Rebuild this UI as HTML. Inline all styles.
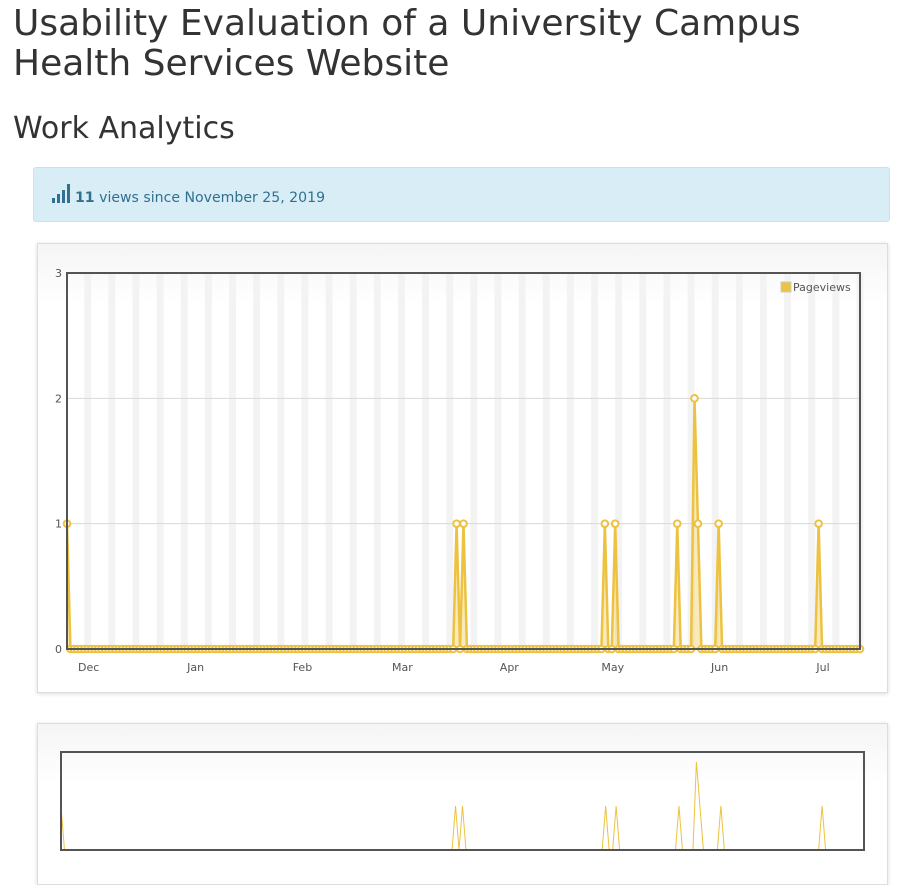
<!DOCTYPE html>
<html><head><meta charset="utf-8">
<style>
body{margin:0;background:#fff;font-family:"DejaVu Sans","Liberation Sans",sans-serif;color:#333;width:921px;height:866px;overflow:hidden;position:relative}
h1{position:absolute;left:13px;top:4px;margin:0;font-weight:normal;font-size:36px;line-height:40px;color:#333}
h2{position:absolute;left:13px;top:111px;margin:0;font-weight:normal;font-size:30px;color:#333}
.info{position:absolute;left:33px;top:167px;width:857px;height:55px;background:#d9edf7;border:1px solid #bce8f1;border-radius:3px;box-sizing:border-box;color:#31708f;font-size:14.1px}
.info span{position:absolute;left:41px;top:22px}
.panel{position:absolute;left:37px;width:849px;border:1px solid #ddd;box-shadow:0 1px 4px rgba(0,0,0,.15);background:linear-gradient(#f5f5f5,#fff 60px)}
</style></head><body>
<h1>Usability Evaluation of a University Campus<br>Health Services Website</h1>
<h2>Work Analytics</h2>
<div class="info">
<svg width="20" height="22" style="position:absolute;left:17px;top:15px"><rect x="1" y="15" width="3" height="5" fill="#31708f"/><rect x="6" y="11" width="3" height="9" fill="#31708f"/><rect x="11" y="7" width="3" height="13" fill="#31708f"/><rect x="16" y="1" width="3" height="19" fill="#31708f"/></svg>
<span><b>11</b> views since November 25, 2019</span></div>
<div class="panel" style="top:243px;height:448px">
<svg id="main" width="849" height="448" style="position:absolute;left:0;top:0"></svg></div>
<div class="panel" style="top:723px;height:160px">
<svg id="ov" width="849" height="160" style="position:absolute;left:0;top:0"></svg></div>
<script>
const nDays = 231;
const spikeDays = [0,113,115,156,159,177,182,183,189,218];
const spikeValues = [1,1,1,1,1,1,2,1,1,1];
const yTicks = [0,1,2,3];
const monthLabels = ["Dec","Jan","Feb","Mar","Apr","May","Jun","Jul"];
const monthDays = [6,37,68,97,128,158,189,219];
const values = new Array(nDays).fill(0);
spikeDays.forEach((d,i)=>values[d]=spikeValues[i]);
const NS="http://www.w3.org/2000/svg";
function mk(p,t,a){const e=document.createElementNS(NS,t);for(const k in a)e.setAttribute(k,a[k]);p.appendChild(e);return e;}
const svg=document.getElementById('main');
const L=29,R=822,T=29,B=405;
const xs=d=>L+d*(R-L)/(nDays-1);
const ys=v=>B-v*(B-T)/3;
for(let d=0;d<nDays;d++){const wd=d%7;if(wd===5){const r=mk(svg,'rect',{x:xs(d),y:T,width:xs(d+2)-xs(d),height:B-T,fill:'#f3f3f3'});

}}
yTicks.forEach(v=>{if(v>0&&v<3){const l=mk(svg,'line',{x1:L,x2:R,y1:ys(v),y2:ys(v),stroke:'#d8d8d8'});

}
const t=mk(svg,'text',{x:L-5,y:ys(v)+4,'text-anchor':'end','font-size':'11',fill:'#545454','font-family':'DejaVu Sans,sans-serif'});t.textContent=v;

});
monthDays.forEach((d,i)=>{const t=mk(svg,'text',{x:xs(d)+1,y:B+22,'text-anchor':'middle','font-size':'11',fill:'#545454','font-family':'DejaVu Sans,sans-serif'});t.textContent=monthLabels[i];

});
let pts=values.map((v,d)=>xs(d)+','+ys(v)).join(' ');
const area=mk(svg,'polygon',{points:xs(0)+','+B+' '+pts+' '+xs(nDays-1)+','+B,fill:'rgba(237,194,64,0.35)'});


const line=mk(svg,'polyline',{points:pts,fill:'none',stroke:'#edc240','stroke-width':'2.5'});


values.forEach((v,d)=>{const c=mk(svg,'circle',{cx:xs(d),cy:ys(v),r:3.3,fill:'#fff',stroke:'#edc240','stroke-width':'2'});

});
const fr=mk(svg,'rect',{x:L,y:T,width:R-L,height:B-T,fill:'none',stroke:'#545454','stroke-width':'2'});


const lg=mk(svg,'g',{});


mk(lg,'rect',{x:743,y:38,width:10,height:10,fill:'#edc240',stroke:'#ccc'});
const lt=mk(lg,'text',{x:755,y:47,'font-size':'11',fill:'#545454','font-family':'DejaVu Sans,sans-serif'});lt.textContent='Pageviews';
const ov=document.getElementById('ov');
const oL=23,oR=826,oT=28,oB=126;
const oxs=d=>oL+d*(oR-oL)/(nDays-1);
const oys=v=>oB-v*(oB-oT-10)/2;
const ol=mk(ov,'polyline',{points:values.map((v,d)=>oxs(d)+','+oys(v)).join(' '),fill:'none',stroke:'#edc240','stroke-width':'1'});


const of=mk(ov,'rect',{x:oL,y:oT,width:oR-oL,height:oB-oT,fill:'none',stroke:'#545454','stroke-width':'2'});


</script>
</body></html>
